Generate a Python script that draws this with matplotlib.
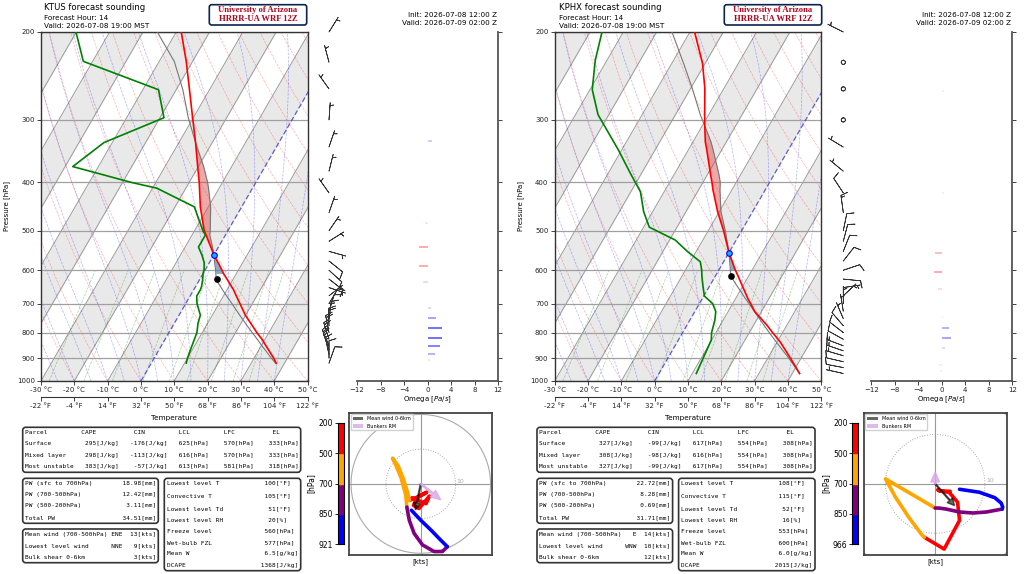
import numpy as np
import matplotlib.pyplot as plt
from matplotlib.patches import FancyBboxPatch, Patch
from matplotlib.colors import Normalize
from matplotlib.ticker import NullLocator
import matplotlib.transforms as mtransforms

plt.rcParams['font.family'] = ['DejaVu Sans']

W, H = 1024, 574
SKEW = 86.7   # degC of x shift per decade of pressure

# ---------------- KTUS data ----------------
tus_p_temp = [921, 900, 850, 827, 800, 766, 738, 700, 676, 657, 647, 628, 609, 600, 580, 560,
              539, 510, 500, 448, 411, 400, 372, 333, 297, 261, 229, 200]
tus_temp = [37.5, 35.9, 31.4, 29.3, 26.4, 22.9, 19.9, 16.3, 13.9, 12.0, 10.8, 8.5, 6.1, 5.1, 2.7, 0.1,
            -2.3, -5.8, -7.1, -12.4, -15.9, -17.0, -20.2, -25.0, -30.2, -36.0, -41.9, -48.5]
tus_parcel = [37.3, 35.2, 30.2, 27.9, 25.0, 21.3, 18.2, 13.9, 11.0, 8.7, 7.5, 5.1, 3.8, 3.2, 1.6, 0.1,
              -1.8, -4.7, -5.3, -9.3, -13.2, -14.5, -18.4, -25.0, -31.5, -38.0, -45.5, -55.7]
tus_p_dew = [921, 900, 850, 800, 766, 738, 700, 676, 657, 647, 628, 609, 600, 580, 560, 539, 510,
             500, 448, 411, 400, 372, 333, 297, 261, 229, 200]
tus_dew = [10.5, 10.0, 9.2, 8.4, 7.1, 6.4, 3.4, 2.0, 2.0, 1.8, 1.0, 0.0, -0.3, -1.5, -3.5, -6.0, -6.0,
           -7.5, -14.2, -28.7, -37.5, -57.7, -52.5, -38.8, -45.3, -72.8, -80.1]
tus_lcl = (625, 5.0)
tus_frz = 560
tus_lfc, tus_el = 565, 333

tus_p_wind = [921, 900, 885, 865, 850, 825, 800, 775, 750, 725, 700, 675, 650, 625, 600, 575, 550,
              525, 500, 460, 420, 380, 340, 300, 260, 230, 200]
tus_u = [-2.7, 0.0, 2.9, 5.7, 7.6, 6.2, 3.8, 0.5, -1.9, -3.3, -4.0, -4.3, -5.7, -7.3, -8.1, -6.5, -5.0,
         -3.8, -3.3, -1.4, 1.7, -1.0, -2.1, -0.5, 2.5, 1.5, -2.5]
tus_v = [-7.6, -10.5, -13.3, -16.2, -18.1, -19.5, -19.5, -17.6, -14.3, -10.5, -6.7, -3.3, 1.9, 5.7, 7.4,
         5.2, 1.4, -2.4, -4.8, -4.0, -2.4, -4.0, -6.2, -7.1, -3.5, -5.7, -4.0]
tus_mean_wind = (-1.5, -7.5)
tus_bunkers = (5.7, -4.6)
tus_hodo_lim = 20.5

tus_p_omega = [331, 482, 539, 588, 634, 715, 749, 783, 819, 851, 883, 907]
tus_omega = [0.8, -0.5, -1.4, -1.4, -0.7, 0.6, 1.5, 2.4, 2.4, 2.1, 1.25, 0.4]

tus_parcels = [('Surface', 295, -176, 625, 570, 333),
               ('Mixed layer', 298, -113, 616, 570, 333),
               ('Most unstable', 383, -57, 613, 581, 318)]
tus_pw = [18.98, 12.42, 3.11, 34.51]
tus_thermo = ['100', '105', '51', '20', '560', '577', '6.5', '1368']
tus_winds = [('ENE', 13), ('NNE', 9), ('', 3)]

# ---------------- KPHX data ----------------
phx_p_temp = [966, 900, 834, 800, 772, 726, 700, 686, 640, 617, 600, 553, 500, 458, 414, 400, 384,
              345, 332, 308, 300, 293, 259, 231, 200]
phx_temp = [42.2, 36.8, 30.8, 27.0, 23.9, 18.0, 15.4, 13.9, 9.3, 6.9, 5.0, 0.0, -5.4, -10.5, -15.7,
            -17.3, -19.3, -24.4, -26.3, -29.3, -30.3, -31.2, -35.8, -40.8, -48.6]
phx_parcel = [42.2, 36.3, 29.6, 26.0, 23.0, 17.9, 14.9, 13.2, 7.6, 4.7, 3.5, 0.0, -4.9, -9.5, -13.6,
              -14.8, -16.8, -22.5, -24.6, -29.3, -31.0, -32.5, -39.6, -46.5, -55.4]
phx_p_dew = [966, 900, 828, 800, 755, 726, 700, 676, 648, 617, 600, 577, 551, 522, 492, 458, 418,
             384, 345, 293, 261, 228, 200]
phx_dew = [11.2, 10.6, 9.9, 8.7, 7.5, 6.3, 4.0, 0.2, -1.8, -4.0, -5.1, -7.0, -12.5, -18.3, -28.3,
           -32.7, -37.1, -43.3, -50.9, -63.2, -69.3, -73.5, -76.4]
phx_lcl = (617, 4.6)
phx_frz = 553
phx_lfc, phx_el = 554, 308

phx_p_wind = [966, 940, 915, 890, 870, 850, 825, 800, 775, 750, 725, 700, 675, 650, 625, 600, 575,
              550, 525, 500, 460, 420, 380, 340, 300, 260, 230, 200]
phx_u = [4.9, 8.9, 12.0, 13.3, 13.6, 13.5, 10.3, 7.6, 4.9, 2.2, 0.8, 0.0, -3.2, -6.6, -10.0, -8.0,
         -5.3, -3.6, -2.7, -2.2, 1.8, 4.9, 4.5, 2.8, 0.8, 0.5, 1.2, 3.0]
phx_v = [-1.1, -1.7, -2.8, -3.9, -4.7, -5.1, -5.7, -5.9, -5.7, -5.1, -4.9, -4.9, -3.0, -1.0, 1.0,
         -2.7, -6.8, -9.1, -10.3, -10.8, -13.2, -7.4, -3.7, -1.7, -1.4, -1.2, -1.5, -1.5]
phx_mean_wind = (3.9, -4.4)
phx_bunkers = (0.0, 2.4)
phx_hodo_lim = 14.4

phx_p_omega = [262, 420, 553, 606, 655, 743, 782, 819, 860, 929, 955]
phx_omega = [0.3, 0.3, -1.1, -1.4, -0.6, 0.2, 1.25, 1.5, 0.6, -0.4, -0.3]

phx_parcels = [('Surface', 327, -99, 617, 554, 308),
               ('Mixed layer', 308, -98, 616, 554, 308),
               ('Most unstable', 327, -99, 617, 554, 308)]
phx_pw = [22.72, 8.28, 0.69, 31.71]
phx_thermo = ['108', '115', '52', '16', '553', '600', '6.0', '2015']
phx_winds = [('E', 14), ('WNW', 10), ('', 12)]

hodo_levels = [200, 500, 700, 850]
hodo_colors = ['red', 'orange', 'purple', 'blue']
pw_labels = ['PW (sfc to 700hPa)', 'PW (700-500hPa)', 'PW (500-200hPa)', 'Total PW']
thermo_labels = ['Lowest level T', 'Convective T', 'Lowest level Td', 'Lowest level RH',
                 'Freeze level', 'Wet-bulb FZL', 'Mean W', 'DCAPE']
thermo_units = ['[°F]', '[°F]', '[°F]', '[%]', '[hPa]', '[hPa]', '[g/kg]', '[J/kg]']
wind_labels = ['Mean wind (700-500hPa)', 'Lowest level wind', 'Bulk shear 0-6km']


def rect(x0, y0, x1, y1):
    return [x0 / W, 1 - y1 / H, (x1 - x0) / W, (y1 - y0) / H]


def skew(t, p):
    return np.asarray(t, float) + SKEW * np.log10(1000.0 / np.asarray(p, float))


def moist_adiabat(t0, p):
    def slope(T, pp):
        es = 6.112 * np.exp(17.67 * (T - 273.15) / (T - 29.65))
        rs = 0.622 * es / (pp - es)
        return (287.04 * T + 2.501e6 * rs) / (pp * (1005.7 + 2.501e6 ** 2 * rs * 0.622 / (287.04 * T ** 2)))
    T = t0 + 273.15
    out = [T]
    for i in range(1, len(p)):
        dp = p[i] - p[i - 1]
        k1 = slope(T, p[i - 1])
        k2 = slope(T + k1 * dp, p[i])
        T = T + 0.5 * (k1 + k2) * dp
        out.append(T)
    return np.array(out) - 273.15


def skewt_panel(x0, name, p_t, temp, parcel, p_d, dew, lcl, frz, lfc, el):
    ax = fig.add_axes(rect(x0, 32, x0 + 266.5, 381))
    ax.set_yscale('log')
    ax.set_ylim(1000, 200)
    ax.set_xlim(-30, 50)
    pe = np.array([1000, 100])
    # shaded isotherm bands
    for t in range(-110, 60, 20):
        ax.fill_betweenx(pe, skew(t, pe), skew(t + 10, pe), color='#e9e9e9', lw=0, zorder=0)
    for t in range(-120, 60, 10):
        if t == 0:
            continue
        ax.plot(skew(t, pe), pe, color='#9a9a9a', lw=0.7, zorder=1)
    ax.plot(skew(0, pe), pe, color='#3a3ad8', lw=0.9, ls='--', dashes=(4, 2), alpha=0.8, zorder=2)
    pp = np.linspace(1000, 150, 60)
    for t0 in range(-30, 200, 10):
        th = (t0 + 273.15) * (pp / 1000.0) ** 0.2857 - 273.15
        ax.plot(skew(th, pp), pp, color='red', lw=0.5, ls='--', alpha=0.3, zorder=1)
    pm = np.linspace(1000, 150, 120)
    for t0 in range(-30, 45, 5):
        ax.plot(skew(moist_adiabat(t0, pm), pm), pm, color='blue', lw=0.5, ls='--', alpha=0.3, zorder=1)
    pw_ = np.linspace(1000, 600, 20)
    for w in [0.4, 1, 2, 4, 7, 10, 16, 24, 32]:
        e = (w / 1000.0) * pw_ / (0.622 + w / 1000.0)
        lg = np.log(e / 6.112)
        td = 243.5 * lg / (17.67 - lg)
        ax.plot(skew(td, pw_), pw_, color='green', lw=0.5, ls='--', alpha=0.35, zorder=1)
    for p in range(200, 1001, 100):
        ax.axhline(p, color='#a0a0a0', lw=0.9, zorder=1)

    p_t = np.array(p_t, float)
    xt = skew(temp, p_t)
    xp = skew(parcel, p_t)
    ax.fill_betweenx(p_t, xt, xp, where=(np.array(parcel) >= np.array(temp)) & (p_t <= lfc + 5) & (p_t >= el),
                     color='#d94040', alpha=0.45, lw=0, interpolate=True, zorder=3)
    ax.fill_betweenx(p_t, xt, xp, where=(np.array(parcel) <= np.array(temp)) & (p_t <= 610) & (p_t >= lfc),
                     color='#5a8ab5', alpha=0.7, lw=0, interpolate=True, zorder=3)
    ax.plot(xp, p_t, color='#777777', lw=0.8, zorder=4)
    ax.plot(xt, p_t, color='red', lw=1.2, zorder=5)
    ax.plot(skew(dew, p_d), p_d, color='green', lw=1.2, zorder=5)
    ax.plot(skew(lcl[1], lcl[0]), lcl[0], 'o', color='k', ms=3.8, zorder=6)
    ax.plot(skew(0, frz), frz, 'o', mfc='#22aaff', mec='blue', mew=0.8, ms=4, zorder=6)

    ax.set_yticks(range(200, 1001, 100))
    ax.set_yticklabels([str(p) for p in range(200, 1001, 100)])
    ax.yaxis.set_minor_locator(NullLocator())
    xt_ = list(range(-30, 51, 10))
    ax.set_xticks(xt_)
    ax.set_xticklabels([f'{t} °C' for t in xt_])
    ax.tick_params(labelsize=5, length=3, width=0.6, pad=1.5, colors='#222222')
    sec = ax.secondary_xaxis(-16 / 349)
    sec.set_xticks(xt_)
    sec.set_xticklabels([f'{round(t * 9 / 5 + 32)} °F' for t in xt_])
    sec.tick_params(labelsize=5, length=3, width=0.6, pad=1.5, colors='#222222')
    sec.spines['bottom'].set_color('#333333')
    for s in ax.spines.values():
        s.set_color('#333333')
        s.set_linewidth(1.0)
    fig.text((x0 + 133) / W, 1 - 418 / H, 'Temperature', fontsize=5.2, ha='center', va='center')
    fig.text((x0 - 34) / W, 1 - 206 / H, 'Pressure [hPa]', fontsize=5, rotation=90, ha='center', va='center')
    return ax


def barb_panel(x0, p, u, v):
    ax = fig.add_axes(rect(x0, 32, x0 + 45, 381))
    ax.set_yscale('log')
    ax.set_ylim(1000, 200)
    ax.set_xlim(-22, 23)
    ax.axis('off')
    ax.patch.set_alpha(0)
    b = ax.barbs(np.zeros(len(p)), p, u, v, length=5.0, lw=0.55, color='#333333',
                 sizes=dict(emptybarb=0.12))
    b.set_clip_on(False)


def omega_panel(x0, p, om):
    ax = fig.add_axes(rect(x0, 32, x0 + 141, 381))
    ax.set_yscale('log')
    ax.set_ylim(1000, 200)
    ax.set_xlim(-12, 12)
    cmap = plt.get_cmap('bwr_r')
    norm = Normalize(-4, 4)
    ax.hlines(p, 0, om, colors=cmap(norm(np.array(om))), lw=1.3)
    ax.set_xticks(range(-12, 13, 4))
    ax.set_yticks(range(200, 1001, 100))
    ax.yaxis.set_minor_locator(NullLocator())
    ax.yaxis.tick_right()
    ax.set_yticklabels([])
    ax.tick_params(labelsize=5, length=3, width=0.6, pad=1.5, colors='#222222')
    ax.spines['left'].set_visible(False)
    ax.spines['top'].set_visible(False)
    for s in ['right', 'bottom']:
        ax.spines[s].set_color('#555555')
        ax.spines[s].set_linewidth(1.3)
    ax.set_xlabel('Omega [$Pa/s$]', fontsize=5, labelpad=1)


def hodo_panel(x0, p, u, v, lim, mean_w, bunk, sfc):
    ax = fig.add_axes(rect(x0, 412.7, x0 + 143, 555))
    ax.set_xlim(-lim, lim)
    ax.set_ylim(-lim, lim)
    ax.set_xticks([])
    ax.set_yticks([])
    ax.axhline(0, color='#999999', lw=0.8)
    ax.axvline(0, color='#999999', lw=0.8)
    th = np.linspace(0, 2 * np.pi, 200)
    ax.plot(10 * np.cos(th), 10 * np.sin(th), color='#aaaaaa', lw=0.7, ls=':')
    ax.plot(20 * np.cos(th), 20 * np.sin(th), color='#aaaaaa', lw=0.8)
    ax.text(10.3, 0.3, '10', fontsize=4.5, color='#aaaaaa')
    p = np.array(p, float)
    u = np.array(u)
    v = np.array(v)
    bounds = hodo_levels + [sfc]
    for i, c in enumerate(hodo_colors):
        m = (p >= bounds[i]) & (p <= bounds[i + 1])
        ax.plot(u[m], v[m], color=c, lw=2.6, solid_capstyle='round', solid_joinstyle='round', zorder=3)
    hl = lim * 0.1
    ax.arrow(0, 0, mean_w[0], mean_w[1], width=lim * 0.015, head_width=hl, head_length=hl,
             length_includes_head=True, fc='k', ec='k', alpha=0.6, zorder=4)
    ax.arrow(0, 0, bunk[0], bunk[1], width=lim * 0.02, head_width=hl * 1.2, head_length=hl * 1.4,
             length_includes_head=True, fc='#d8a8e8', ec='#d8a8e8', alpha=0.8, zorder=4)
    ax.legend(handles=[Patch(fc='k', alpha=0.6, label='Mean wind 0-6km'),
                       Patch(fc='#d8a8e8', alpha=0.8, label='Bunkers RM')],
              loc='upper left', fontsize=3.5, handlelength=2.2, borderaxespad=0.3, framealpha=0.9)
    for s in ax.spines.values():
        s.set_color('#444444')
        s.set_linewidth(1.3)
    ax.set_xlabel('[kts]', fontsize=5, labelpad=2)

    cb = fig.add_axes(rect(x0 - 11.3, 422.7, x0 - 5.3, 544.3))
    for i, c in enumerate(reversed(hodo_colors)):
        cb.axhspan(i, i + 1, color=c)
    cb.set_ylim(0, 4)
    cb.set_xlim(0, 1)
    cb.set_xticks([])
    cb.set_yticks(range(5))
    cb.set_yticklabels([str(sfc)] + [str(x) for x in reversed(hodo_levels)])
    cb.tick_params(labelsize=5.5, length=2, width=0.6, pad=1.5)
    cb.set_ylabel('[hPa]', fontsize=5.5, labelpad=2)


def box(x0, y0, x1, y1, ec='#333333', lw=1.2, r=3):
    patch = FancyBboxPatch((x0, H - y1), x1 - x0, y1 - y0, boxstyle=f'round,pad=0,rounding_size={r}',
                           transform=mtransforms.IdentityTransform(), fc='white', ec=ec, lw=lw)
    fig.add_artist(patch)


def mono(x, y, s):
    fig.text(x / W, 1 - y / H, s, fontsize=4.4, family='DejaVu Sans Mono', ha='left', va='center')


def tables(x0, parcels, pw, thermo, winds):
    box(x0 - 2.3, 427.3, x0 + 275.7, 472.3)
    mono(x0, 432.7, f"{'Parcel':<15}{'CAPE':<14}{'CIN':<12}{'LCL':<12}{'LFC':<13}EL")
    for i, r in enumerate(parcels):
        mono(x0, 444 + 11.3 * i,
             f"{r[0]:<15}{r[1]:>4}[J/kg]{r[2]:>7}[J/kg]{r[3]:>6}[hPa]{r[4]:>7}[hPa]{r[5]:>7}[hPa]")
    box(x0 - 2.3, 478.3, x0 + 133.3, 523.3)
    for i, (lab, val) in enumerate(zip(pw_labels, pw)):
        mono(x0, 483.3 + 11.35 * i, f"{lab:<25}{val:>6.2f}[mm]")
    box(x0 - 2.3, 529, x0 + 133.3, 562.7)
    for i, (lab, (d, s)) in enumerate(zip(wind_labels, winds)):
        mono(x0, 534.3 + 11.2 * i, f"{lab:<23}{d:>3}{s:>4}[kts]")
    box(x0 + 139.3, 478.3, x0 + 275.7, 570.7)
    ys = [483.3, 496.3, 508.7, 520.3, 531.3, 542.7, 554, 565.3]
    for y, lab, val, un in zip(ys, thermo_labels, thermo, thermo_units):
        mono(x0 + 141.7, y, f"{lab:<25}{val:>4}{un}")


def header(x0, x_right, badge_x, station):
    fig.text(x0 / W, 1 - 7.7 / H, f'{station} forecast sounding', fontsize=6.1, va='center')
    fig.text(x0 / W, 1 - 18.3 / H, 'Forecast Hour: 14', fontsize=5.2, va='center')
    fig.text(x0 / W, 1 - 25.7 / H, 'Valid: 2026-07-08 19:00 MST', fontsize=5.2, va='center')
    fig.text(x_right / W, 1 - 15.3 / H, 'Init: 2026-07-08 12:00 Z', fontsize=5.2, ha='right', va='center')
    fig.text(x_right / W, 1 - 23 / H, 'Valid: 2026-07-09 02:00 Z', fontsize=5.2, ha='right', va='center')
    box(badge_x, 4.7, badge_x + 97.4, 25, ec='#0C234B', lw=1.2, r=2.5)
    for y, s in [(10.5, 'University of Arizona'), (19.3, 'HRRR-UA WRF 12Z')]:
        fig.text((badge_x + 48.7) / W, 1 - y / H, s, fontsize=6.2, family='Liberation Serif',
                 weight='bold', color='#AB0520', ha='center', va='center')


fig = plt.figure(figsize=(W / 100, H / 100), dpi=100)

skewt_panel(41, 'KTUS', tus_p_temp, tus_temp, tus_parcel, tus_p_dew, tus_dew, tus_lcl, tus_frz, tus_lfc, tus_el)
barb_panel(307, tus_p_wind, tus_u, tus_v)
omega_panel(357, tus_p_omega, tus_omega)
hodo_panel(349.3, tus_p_wind, tus_u, tus_v, tus_hodo_lim, tus_mean_wind, tus_bunkers, tus_p_wind[0])
tables(25, tus_parcels, tus_pw, tus_thermo, tus_winds)
header(44, 497.3, 209.3, 'KTUS')

skewt_panel(554.7, 'KPHX', phx_p_temp, phx_temp, phx_parcel, phx_p_dew, phx_dew, phx_lcl, phx_frz, phx_lfc, phx_el)
barb_panel(821.3, phx_p_wind, phx_u, phx_v)
omega_panel(871.3, phx_p_omega, phx_omega)
hodo_panel(863.7, phx_p_wind, phx_u, phx_v, phx_hodo_lim, phx_mean_wind, phx_bunkers, phx_p_wind[0])
tables(539.3, phx_parcels, phx_pw, phx_thermo, phx_winds)
header(558.7, 1011.3, 724.3, 'KPHX')

fig.savefig('out.png', dpi=100)
